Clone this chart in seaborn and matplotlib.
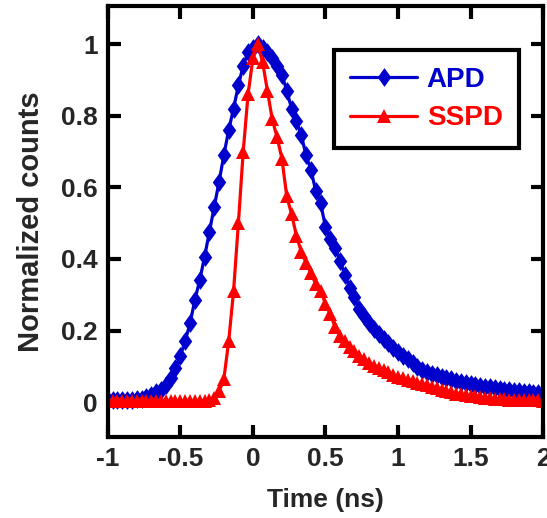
import numpy as np
import pandas as pd
import seaborn as sns
import matplotlib.pyplot as plt
from matplotlib.ticker import FormatStrFormatter

sns.set_style("ticks")
plt.rcParams['font.family'] = ['Liberation Sans', 'DejaVu Sans']
plt.rcParams['font.weight'] = 'bold'
plt.rcParams['axes.unicode_minus'] = False

# time bins (ns), 1/30 ns spacing from -1 to 2
time_ns = np.round(np.linspace(-1, 2, 91), 4)

apd = [0.005, 0.005, 0.005, 0.006, 0.006, 0.007, 0.008, 0.010, 0.013, 0.020,
       0.027, 0.035, 0.048, 0.066, 0.095, 0.130, 0.170, 0.220, 0.285, 0.340,
       0.405, 0.475, 0.545, 0.615, 0.690, 0.760, 0.820, 0.885, 0.940, 0.978,
       0.990, 1.000, 0.990, 0.978, 0.960, 0.940, 0.915, 0.870, 0.820, 0.785,
       0.745, 0.690, 0.648, 0.590, 0.555, 0.490, 0.455, 0.430, 0.395, 0.355,
       0.320, 0.295, 0.260, 0.240, 0.222, 0.205, 0.190, 0.175, 0.165, 0.150,
       0.140, 0.130, 0.120, 0.108, 0.098, 0.090, 0.084, 0.079, 0.075, 0.071,
       0.067, 0.064, 0.060, 0.057, 0.054, 0.051, 0.048, 0.046, 0.043, 0.041,
       0.039, 0.037, 0.035, 0.033, 0.031, 0.030, 0.028, 0.027, 0.026, 0.025,
       0.024]

sspd = [0.002, 0.002, 0.002, 0.002, 0.002, 0.002, 0.002, 0.002, 0.002, 0.002,
        0.002, 0.002, 0.002, 0.002, 0.002, 0.002, 0.002, 0.002, 0.002, 0.002,
        0.003, 0.005, 0.012, 0.030, 0.065, 0.170, 0.310, 0.500, 0.700, 0.860,
        0.960, 1.000, 0.950, 0.870, 0.790, 0.740, 0.680, 0.575, 0.525, 0.465,
        0.420, 0.390, 0.360, 0.330, 0.310, 0.275, 0.245, 0.210, 0.185, 0.170,
        0.155, 0.143, 0.130, 0.120, 0.110, 0.102, 0.096, 0.090, 0.084, 0.077,
        0.071, 0.066, 0.062, 0.058, 0.054, 0.050, 0.047, 0.043, 0.039, 0.035,
        0.031, 0.027, 0.024, 0.022, 0.020, 0.018, 0.016, 0.014, 0.012, 0.011,
        0.010, 0.009, 0.008, 0.007, 0.007, 0.006, 0.006, 0.005, 0.005, 0.005,
        0.004]

df = pd.DataFrame({"t": time_ns, "APD": apd, "SSPD": sspd})

blue = "#0000CC"
red = "#FF0000"
diamond = [(0, 1), (0.72, 0), (0, -1), (-0.72, 0), (0, 1)]

fig = plt.figure(figsize=(5.47, 5.18), dpi=100)
ax = fig.add_axes([0.197, 0.156, 0.796, 0.832])

sns.lineplot(data=df, x="t", y="APD", ax=ax, color=blue, label="APD",
             marker=diamond, markersize=13.5, markeredgewidth=0, linewidth=2.3)
sns.lineplot(data=df, x="t", y="SSPD", ax=ax, color=red, label="SSPD",
             marker="^", markersize=10.5, markeredgewidth=0, linewidth=2.3)

ax.set_xlim(-1, 2)
ax.set_ylim(-0.098, 1.106)
ax.set_xticks([-1, -0.5, 0, 0.5, 1, 1.5, 2])
ax.set_yticks([0, 0.2, 0.4, 0.6, 0.8, 1])
ax.xaxis.set_major_formatter(FormatStrFormatter('%g'))
ax.yaxis.set_major_formatter(FormatStrFormatter('%g'))
ax.tick_params(direction="in", length=9, width=3, labelsize=19,
               top=True, right=True, pad=7, color="black")
for s in ax.spines.values():
    s.set_linewidth(3)
    s.set_color("black")

ax.set_xlabel("Time (ns)", fontsize=19, fontweight="bold", labelpad=12)
ax.set_ylabel("Normalized counts", fontsize=21, fontweight="bold", labelpad=12)

leg = ax.legend(loc="upper right", bbox_to_anchor=(0.945, 0.898),
                borderaxespad=0, fancybox=False, framealpha=1,
                handlelength=2.4, fontsize=20, borderpad=0.6,
                labelspacing=0.45, handletextpad=0.35)
leg.get_frame().set_edgecolor("black")
leg.get_frame().set_linewidth(3)
for txt, c in zip(leg.get_texts(), [blue, red]):
    txt.set_color(c)
    txt.set_fontweight("bold")

fig.savefig("out.png", dpi=100)
